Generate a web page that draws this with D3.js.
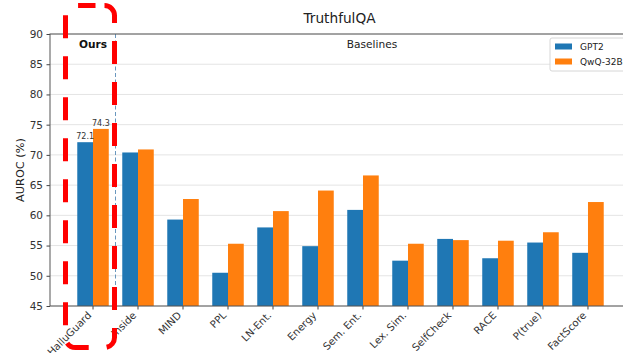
<!DOCTYPE html>
<html>
<head>
<meta charset="utf-8">
<script src="https://cdn.jsdelivr.net/npm/d3@7/dist/d3.min.js"></script>
<style>
  html, body { margin: 0; padding: 0; background: #fff; }
  svg { display: block; font-family: "DejaVu Sans", sans-serif; }
</style>
</head>
<body>
<svg id="chart" width="623" height="353"></svg>
<script>
// AUROC (%) on TruthfulQA for each detection method
const methods = ["HalluGuard", "Inside", "MIND", "PPL", "LN-Ent.", "Energy",
                 "Sem. Ent.", "Lex. Sim.", "SelfCheck", "RACE", "P(true)", "FactScore"];
const gpt2Scores = [72.1, 70.4, 59.3, 50.5, 58.0, 54.9, 60.9, 52.5, 56.1, 52.9, 55.5, 53.8];
const qwqScores  = [74.3, 70.9, 62.7, 55.3, 60.7, 64.1, 66.6, 55.3, 55.9, 55.8, 57.2, 62.2];
const seriesNames = ["GPT2", "QwQ-32B"];
const seriesColors = ["#1f77b4", "#ff7f0e"];
const yTicks = [45, 50, 55, 60, 65, 70, 75, 80, 85, 90];

const svg = d3.select("#chart");
const plot = { left: 50, right: 631, top: 34, bottom: 306 };

const x = d3.scaleBand()
  .domain(methods)
  .range([plot.left, plot.right])
  .paddingInner(0)
  .paddingOuter(0.456);
const barW = x.bandwidth() * 0.35;

const y = d3.scaleLinear().domain([45, 90]).range([plot.bottom, plot.top]);

// grid
svg.append("g")
  .selectAll("line")
  .data(yTicks)
  .join("line")
  .attr("x1", plot.left).attr("x2", plot.right)
  .attr("y1", d => y(d)).attr("y2", d => y(d))
  .attr("stroke", "#e4e4e4").attr("stroke-width", 1);

// bars
const series = [gpt2Scores, qwqScores];
series.forEach((vals, si) => {
  svg.append("g")
    .selectAll("rect")
    .data(methods.map((m, i) => ({ m, v: vals[i] })))
    .join("rect")
    .attr("x", d => x(d.m) + x.bandwidth() / 2 + (si === 0 ? -barW : 0))
    .attr("y", d => y(d.v))
    .attr("width", barW)
    .attr("height", d => y(45) - y(d.v))
    .attr("fill", seriesColors[si]);
});

// value labels on the proposed method
const ourIdx = 0;
series.forEach((vals, si) => {
  svg.append("text")
    .attr("x", x(methods[ourIdx]) + x.bandwidth() / 2 + (si === 0 ? -barW / 2 : barW / 2))
    .attr("y", y(vals[ourIdx]) - 3)
    .attr("text-anchor", "middle")
    .attr("font-size", 8)
    .attr("fill", "#333")
    .text(vals[ourIdx].toFixed(1));
});

// separator between our method and baselines
const sepX = (x(methods[0]) + x(methods[1]) + x.bandwidth()) / 2;
svg.append("line")
  .attr("x1", sepX).attr("x2", sepX)
  .attr("y1", plot.top).attr("y2", plot.bottom)
  .attr("stroke", "#4f86b3").attr("stroke-width", 1)
  .attr("stroke-dasharray", "4 2.5").attr("opacity", 0.85);

// axes
const yAxis = d3.axisLeft(y).tickValues(yTicks).tickSize(3.5).tickPadding(3.5);
const gy = svg.append("g").attr("transform", `translate(${plot.left},0)`).call(yAxis);
gy.select(".domain").remove();
gy.selectAll("text").attr("font-size", 10.5).attr("fill", "#333").attr("font-family", "DejaVu Sans");
gy.selectAll("line").attr("stroke", "#444");

const xAxis = d3.axisBottom(x).tickSize(3.5).tickFormat("");
const gx = svg.append("g").attr("transform", `translate(0,${plot.bottom})`).call(xAxis);
gx.select(".domain").remove();
gx.selectAll("line").attr("stroke", "#444");

svg.append("g")
  .selectAll("text")
  .data(methods)
  .join("text")
  .attr("transform", d => `translate(${x(d) + x.bandwidth() / 2 - 1},${plot.bottom + 10}) rotate(-45)`)
  .attr("text-anchor", "end")
  .attr("font-size", 10.2)
  .attr("fill", "#333")
  .text(d => d);

// spines
svg.append("rect")
  .attr("x", plot.left).attr("y", plot.top)
  .attr("width", plot.right - plot.left).attr("height", plot.bottom - plot.top)
  .attr("fill", "none").attr("stroke", "#555").attr("stroke-width", 1);

// titles
svg.append("text")
  .attr("x", (plot.left + plot.right) / 2 - 1).attr("y", 23)
  .attr("text-anchor", "middle").attr("font-size", 13.7).attr("fill", "#222")
  .text("TruthfulQA");

svg.append("text")
  .attr("transform", `translate(24,${(plot.top + plot.bottom) / 2}) rotate(-90)`)
  .attr("text-anchor", "middle").attr("font-size", 11.3).attr("fill", "#222")
  .text("AUROC (%)");

svg.append("text")
  .attr("x", 93).attr("y", 48)
  .attr("text-anchor", "middle").attr("font-size", 10.6).attr("font-weight", "bold").attr("fill", "#111")
  .text("Ours");

svg.append("text")
  .attr("x", 372).attr("y", 48)
  .attr("text-anchor", "middle").attr("font-size", 10.6).attr("fill", "#222")
  .text("Baselines");

// legend
const lg = svg.append("g").attr("transform", "translate(550,38)");
lg.append("rect")
  .attr("x", 0).attr("y", 0).attr("width", 80).attr("height", 33).attr("rx", 2)
  .attr("fill", "#fff").attr("fill-opacity", 0.85).attr("stroke", "#d6d6d6");
seriesNames.forEach((name, i) => {
  lg.append("rect")
    .attr("x", 5).attr("y", 5.5 + i * 15).attr("width", 17).attr("height", 6)
    .attr("fill", seriesColors[i]);
  lg.append("text")
    .attr("x", 30).attr("y", 12 + i * 15)
    .attr("font-size", 9).attr("fill", "#222")
    .text(name);
});

// highlight box around our method
const bx0 = 65.5, bx1 = 114.5, by0 = 5.5, by1 = 347.5, r = 10;
const mid = 95.5;
const p = d3.path();
p.moveTo(mid, by0);
p.lineTo(bx1 - r, by0);
p.arcTo(bx1, by0, bx1, by0 + r, r);
p.lineTo(bx1, by1 - r);
p.arcTo(bx1, by1, bx1 - r, by1, r);
p.lineTo(bx0 + r, by1);
p.arcTo(bx0, by1, bx0, by1 - r, r);
p.lineTo(bx0, by0 + r);
p.arcTo(bx0, by0, bx0 + r, by0, r);
p.closePath();
svg.append("path")
  .attr("d", p.toString())
  .attr("fill", "none")
  .attr("stroke", "#ff0000")
  .attr("stroke-width", 5)
  .attr("stroke-dasharray", "23 18")
  .attr("stroke-dashoffset", 32);
</script>
</body>
</html>
